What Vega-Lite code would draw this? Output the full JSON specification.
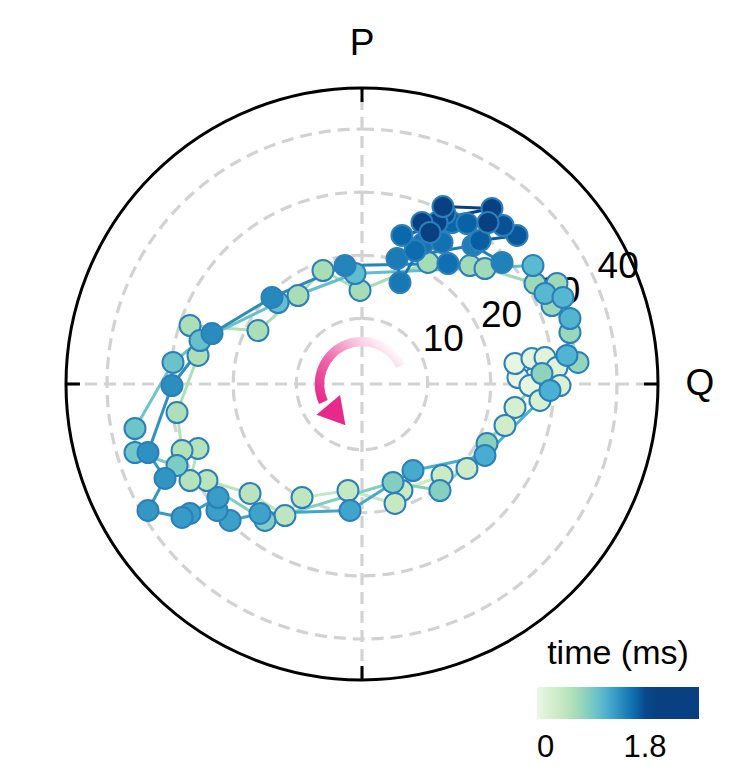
{
  "$schema": "https://vega.github.io/schema/vega-lite/v6.json",
  "autosize": "none",
  "width": 592,
  "height": 592,
  "padding": {"left": 66, "top": 88, "right": 75, "bottom": 87},
  "background": "white",
  "config": {"view": {"stroke": null}, "font": "Liberation Sans"},
  "datasets": {
    "traj": [
      {"t": 0.00, "Q": 27.18, "P": 1.02},
      {"t": 0.02, "Q": 24.50, "P": 1.02},
      {"t": 0.04, "Q": 24.03, "P": 3.22},
      {"t": 0.06, "Q": 26.39, "P": -0.24},
      {"t": 0.09, "Q": 26.70, "P": 4.01},
      {"t": 0.12, "Q": 28.75, "P": 4.16},
      {"t": 0.15, "Q": 30.63, "P": 2.59},
      {"t": 0.18, "Q": 31.10, "P": -0.24},
      {"t": 0.21, "Q": 27.96, "P": -2.59},
      {"t": 0.24, "Q": 24.03, "P": -3.69},
      {"t": 0.30, "Q": 22.46, "P": -6.52},
      {"t": 0.33, "Q": 16.49, "P": -13.27},
      {"t": 0.35, "Q": 12.57, "P": -14.37},
      {"t": 0.37, "Q": 6.28, "P": -16.73},
      {"t": 0.40, "Q": 5.18, "P": -18.77},
      {"t": 0.42, "Q": -2.20, "P": -16.73},
      {"t": 0.45, "Q": -9.42, "P": -17.83},
      {"t": 0.47, "Q": -12.10, "P": -20.66},
      {"t": 0.49, "Q": -17.59, "P": -17.20},
      {"t": 0.51, "Q": -24.35, "P": -15.16},
      {"t": 0.53, "Q": -27.02, "P": -15.16},
      {"t": 0.54, "Q": -25.76, "P": -10.13},
      {"t": 0.56, "Q": -28.27, "P": -10.45},
      {"t": 0.60, "Q": -29.06, "P": -4.48},
      {"t": 0.61, "Q": -25.76, "P": 4.48},
      {"t": 0.62, "Q": -27.02, "P": 9.19},
      {"t": 0.63, "Q": -16.34, "P": 8.40},
      {"t": 0.64, "Q": -10.05, "P": 13.90},
      {"t": 0.65, "Q": -6.13, "P": 17.83},
      {"t": 0.66, "Q": -0.31, "P": 14.69},
      {"t": 0.67, "Q": 10.37, "P": 19.09},
      {"t": 0.68, "Q": 16.96, "P": 18.61},
      {"t": 0.69, "Q": 19.32, "P": 18.14},
      {"t": 0.70, "Q": 27.18, "P": 15.79},
      {"t": 0.71, "Q": 30.63, "P": 15.79},
      {"t": 0.72, "Q": 29.85, "P": 12.33},
      {"t": 0.73, "Q": 32.67, "P": 8.09},
      {"t": 0.76, "Q": 33.93, "P": 3.38},
      {"t": 0.79, "Q": 28.27, "P": 1.65},
      {"t": 0.82, "Q": 19.64, "P": -9.35},
      {"t": 0.84, "Q": 12.25, "P": -16.73},
      {"t": 0.86, "Q": 4.87, "P": -15.47},
      {"t": 0.88, "Q": -15.24, "P": -21.44},
      {"t": 0.90, "Q": -29.06, "P": -12.80},
      {"t": 0.95, "Q": -35.66, "P": -10.76},
      {"t": 0.97, "Q": -35.66, "P": -6.99},
      {"t": 0.99, "Q": -29.69, "P": 3.38},
      {"t": 1.01, "Q": -25.45, "P": 6.83},
      {"t": 1.03, "Q": -13.19, "P": 12.80},
      {"t": 1.05, "Q": -1.10, "P": 17.36},
      {"t": 1.08, "Q": 26.86, "P": 18.61},
      {"t": 1.10, "Q": 28.75, "P": 14.22},
      {"t": 1.11, "Q": 31.57, "P": 13.59},
      {"t": 1.12, "Q": 32.67, "P": 10.29},
      {"t": 1.14, "Q": 32.20, "P": 4.48},
      {"t": 1.17, "Q": 29.53, "P": -1.02},
      {"t": 1.19, "Q": 19.32, "P": -11.23},
      {"t": 1.21, "Q": 8.01, "P": -13.59},
      {"t": 1.24, "Q": -1.88, "P": -19.87},
      {"t": 1.26, "Q": -16.02, "P": -20.34},
      {"t": 1.27, "Q": -20.73, "P": -21.44},
      {"t": 1.28, "Q": -22.78, "P": -19.87},
      {"t": 1.29, "Q": -22.62, "P": -17.83},
      {"t": 1.30, "Q": -27.02, "P": -20.34},
      {"t": 1.31, "Q": -28.27, "P": -20.97},
      {"t": 1.33, "Q": -33.62, "P": -19.87},
      {"t": 1.35, "Q": -30.94, "P": -14.84},
      {"t": 1.37, "Q": -33.62, "P": -10.76},
      {"t": 1.39, "Q": -29.85, "P": -0.24},
      {"t": 1.41, "Q": -23.56, "P": 7.93},
      {"t": 1.43, "Q": -14.14, "P": 13.59},
      {"t": 1.45, "Q": -2.67, "P": 18.61},
      {"t": 1.47, "Q": 21.99, "P": 19.09},
      {"t": 1.49, "Q": 17.44, "P": 21.76},
      {"t": 1.52, "Q": 5.50, "P": 19.71},
      {"t": 1.54, "Q": 5.97, "P": 15.94},
      {"t": 1.56, "Q": 9.58, "P": 22.07},
      {"t": 1.58, "Q": 12.57, "P": 22.23},
      {"t": 1.60, "Q": 13.51, "P": 18.93},
      {"t": 1.62, "Q": 8.33, "P": 20.97},
      {"t": 1.64, "Q": 6.28, "P": 23.33},
      {"t": 1.66, "Q": 14.14, "P": 25.37},
      {"t": 1.68, "Q": 16.49, "P": 25.21},
      {"t": 1.70, "Q": 18.54, "P": 22.54},
      {"t": 1.73, "Q": 24.35, "P": 23.33},
      {"t": 1.76, "Q": 22.15, "P": 24.90},
      {"t": 1.79, "Q": 13.04, "P": 26.78},
      {"t": 1.83, "Q": 11.78, "P": 25.37},
      {"t": 1.87, "Q": 12.72, "P": 27.88},
      {"t": 1.92, "Q": 20.42, "P": 27.57},
      {"t": 2.00, "Q": 9.42, "P": 25.37},
      {"t": 2.10, "Q": 19.79, "P": 25.37},
      {"t": 2.20, "Q": 10.68, "P": 23.80}
    ],
    "rings": [{"r": 10, "lab": "10"}, {"r": 20, "lab": "20"}, {"r": 30, "lab": "30"}, {"r": 40, "lab": "40"}],
    "spokes": [
      {"Q": -46.5, "Q2": 46.5, "P": 0, "P2": 0},
      {"Q": 0, "Q2": 0, "P": -46.5, "P2": 46.5}
    ],
    "ticks": [
      {"Q": -46.5, "Q2": -44.3, "P": 0, "P2": 0},
      {"Q": 44.3, "Q2": 46.5, "P": 0, "P2": 0},
      {"Q": 0, "Q2": 0, "P": 44.3, "P2": 46.5},
      {"Q": 0, "Q2": 0, "P": -46.5, "P2": -44.3}
    ],
    "edge": [{"r": 46.5}],
    "axisNames": [{"Q": 0, "P": 53.4, "name": "P"}, {"Q": 53.1, "P": 0, "name": "Q"}],
    "arrowHead": [{"Q": -4.4, "P": -4.34}]
  },
  "layer": [
    {
      "data": {"name": "rings"},
      "mark": {"type": "arc", "theta": 0, "theta2": 6.2832, "radius2": 0, "fill": null, "stroke": "#d2d2d2", "strokeWidth": 3.2, "strokeDash": [12, 7]},
      "encoding": {
        "radius": {"field": "r", "type": "quantitative", "stack": null, "scale": {"type": "linear", "zero": false, "domain": [-0.4, 46.5], "range": [0, 296]}}
      }
    },
    {
      "data": {"name": "spokes"},
      "mark": {"type": "rule", "stroke": "#d2d2d2", "strokeWidth": 3.2, "strokeDash": [12, 7]},
      "encoding": {
        "x": {"field": "Q", "type": "quantitative", "scale": {"domain": [-46.5, 46.5], "nice": false, "zero": false}, "axis": null},
        "x2": {"field": "Q2"},
        "y": {"field": "P", "type": "quantitative", "scale": {"domain": [-46.5, 46.5], "nice": false, "zero": false}, "axis": null},
        "y2": {"field": "P2"}
      }
    },
    {
      "data": {"name": "edge"},
      "mark": {"type": "arc", "theta": 0, "theta2": 6.2832, "radius2": 0, "fill": null, "stroke": "black", "strokeWidth": 3},
      "encoding": {
        "radius": {"field": "r", "type": "quantitative", "stack": null, "scale": {"type": "linear", "zero": false, "domain": [-0.4, 46.5], "range": [0, 296]}}
      }
    },
    {
      "data": {"name": "ticks"},
      "mark": {"type": "rule", "stroke": "black", "strokeWidth": 3},
      "encoding": {
        "x": {"field": "Q", "type": "quantitative"},
        "x2": {"field": "Q2"},
        "y": {"field": "P", "type": "quantitative"},
        "y2": {"field": "P2"}
      }
    },
    {
      "data": {"name": "rings"},
      "mark": {"type": "text", "theta": 1.1781, "align": "left", "baseline": "bottom", "fontSize": 37, "color": "black"},
      "encoding": {
        "radius": {"field": "r", "type": "quantitative", "stack": null, "scale": {"type": "linear", "zero": false, "domain": [-0.4, 46.5], "range": [0, 296]}},
        "text": {"field": "lab"}
      }
    },
    {
      "data": {"values": [{}]},
      "mark": {
        "type": "arc",
        "theta": -2.007,
        "theta2": 1.134,
        "fill": {
          "gradient": "linear",
          "x1": 1, "y1": 0.3, "x2": 0.1, "y2": 1,
          "stops": [
            {"offset": 0, "color": "#ffffff"},
            {"offset": 0.25, "color": "#f9c8e0"},
            {"offset": 0.6, "color": "#ee6aac"},
            {"offset": 1, "color": "#e7298a"}
          ]
        }
      },
      "encoding": {
        "radius": {"datum": 7.1, "type": "quantitative", "stack": null, "scale": {"type": "linear", "zero": false, "domain": [-0.4, 46.5], "range": [0, 296]}},
        "radius2": {"datum": 5.6}
      }
    },
    {
      "data": {"name": "arrowHead"},
      "mark": {"type": "point", "shape": "triangle", "filled": true, "size": 950, "angle": 140, "color": "#e7298a", "opacity": 1},
      "encoding": {
        "x": {"field": "Q", "type": "quantitative"},
        "y": {"field": "P", "type": "quantitative"}
      }
    },
    {
      "data": {"name": "traj"},
      "transform": [
        {"window": [{"op": "lead", "field": "Q", "as": "Qn"}, {"op": "lead", "field": "P", "as": "Pn"}], "sort": [{"field": "t"}]},
        {"filter": "datum.Qn != null"}
      ],
      "mark": {"type": "rule", "strokeWidth": 3, "strokeCap": "round"},
      "encoding": {
        "x": {"field": "Q", "type": "quantitative"},
        "x2": {"field": "Qn"},
        "y": {"field": "P", "type": "quantitative"},
        "y2": {"field": "Pn"},
        "stroke": {
          "field": "t",
          "type": "quantitative",
          "scale": {
            "type": "linear",
            "domain": [0, 0.35, 0.65, 0.9, 1.15, 1.4, 1.65, 1.85, 2.71],
            "range": ["#eaf7e4", "#ccebc5", "#a8ddb5", "#7bccc4", "#4eb3d3", "#2b8cbe", "#0868ac", "#084081", "#084081"],
            "interpolate": "rgb"
          },
          "legend": null
        }
      }
    },
    {
      "data": {"name": "traj"},
      "mark": {"type": "point", "shape": "circle", "filled": true, "size": 441, "stroke": "#2b7fbb", "strokeWidth": 2, "opacity": 1},
      "encoding": {
        "x": {"field": "Q", "type": "quantitative"},
        "y": {"field": "P", "type": "quantitative"},
        "order": {"field": "t"},
        "fill": {
          "field": "t",
          "type": "quantitative",
          "scale": {
            "type": "linear",
            "domain": [0, 0.35, 0.65, 0.9, 1.15, 1.4, 1.65, 1.85, 2.7],
            "range": ["#eaf7e4", "#ccebc5", "#a8ddb5", "#7bccc4", "#4eb3d3", "#2b8cbe", "#0868ac", "#084081", "#084081"],
            "interpolate": "rgb"
          },
          "legend": {
            "title": "time (ms)",
            "orient": "none",
            "legendX": 471,
            "legendY": 549,
            "direction": "horizontal",
            "gradientLength": 162,
            "gradientThickness": 32,
            "gradientStrokeWidth": 0,
            "padding": 0,
            "titleFontSize": 34,
            "titleFontWeight": "normal",
            "titleColor": "black",
            "titleAnchor": "middle",
            "titlePadding": 16,
            "labelFontSize": 31,
            "labelColor": "black",
            "labelAlign": "center",
            "labelOffset": 14,
            "values": [0, 1.8],
            "format": ".1~f",
            "encoding": {
              "labels": {
                "update": {
                  "align": {"value": "center"},
                  "fontSize": {"value": 31}
                }
              }
            }
          }
        }
      }
    },
    {
      "data": {"name": "axisNames"},
      "mark": {"type": "text", "fontSize": 37, "align": "center", "baseline": "middle", "color": "black"},
      "encoding": {
        "x": {"field": "Q", "type": "quantitative"},
        "y": {"field": "P", "type": "quantitative"},
        "text": {"field": "name"}
      }
    }
  ]
}
